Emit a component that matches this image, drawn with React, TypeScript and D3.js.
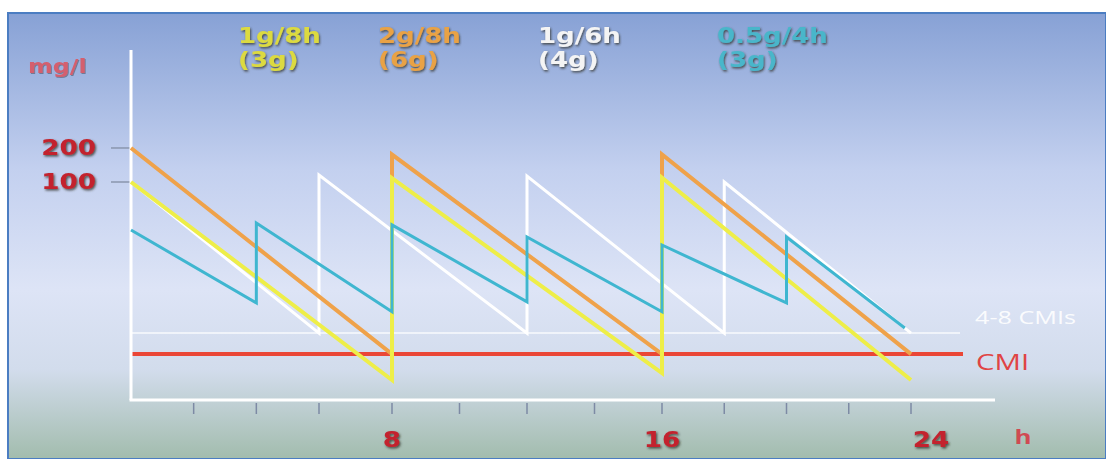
import React, { useEffect } from "react";
import * as d3 from "d3";

// ---- data ----
const orangeT = [0, 8, 8, 16, 16, 24];
const orangeV = [200, 3, 175, 3, 175, 3];
const yellowT = [0, 8, 8, 16, 16, 24];
const yellowV = [100, 1.77, 108, 2.04, 109, 1.77];
const whiteT = [0, 6, 6, 12, 12, 18, 18, 24];
const whiteV = [100, 4.6, 115, 4.6, 113, 4.6, 100, 4.6];
const cyanT = [0, 4, 4, 8, 8, 12, 12, 16, 16, 20, 20, 23.8];
const cyanV = [37.6, 8.5, 43.4, 7.1, 41.7, 8.7, 32.6, 7.1, 27.7, 8.5, 32.6, 5.1];

const CMI = 3;
const CMI48 = 4.6;
const yTickValues = [200, 100];
const yTickLabels = ["200", "100"];
const xTicks = [2, 4, 6, 8, 10, 12, 14, 16, 18, 20, 22, 24];
const xLabelValues = [8, 16, 24];
const xLabels = ["8", "16", "24"];

const legendLine1 = ["1g/8h", "2g/8h", "1g/6h", "0.5g/4h"];
const legendLine2 = ["(3g)", "(6g)", "(4g)", "(3g)"];

const W = 1106;
const H = 459;

type TProps = {
  x: number;
  y: number;
  sx?: number;
  anchor?: "start" | "middle" | "end";
  children: React.ReactNode;
  [k: string]: any;
};

function SText({ x, y, sx = 1.25, anchor = "start", children, ...rest }: TProps) {
  return (
    <text transform={`translate(${x},${y}) scale(${sx},1)`} textAnchor={anchor} {...rest}>
      {children}
    </text>
  );
}

export default function App() {
  useEffect(() => {
    document.body.style.margin = "0";
  }, []);

  const x = d3
    .scaleLinear()
    .domain([0, 6, 8, 16, 24])
    .range([131, 319, 392, 662, 911]);
  const y = d3.scaleLog().domain([1, 1000]).range([408, 69]);

  const line = d3
    .line<[number, number]>()
    .x((d) => x(d[0]))
    .y((d) => y(d[1]));

  const pts = (t: number[], v: number[]) =>
    t.map((tt, i) => [tt, v[i]] as [number, number]);

  const series = [
    { t: whiteT, v: whiteV, color: "#ffffff", w: 3 },
    { t: orangeT, v: orangeV, color: "#efa24a", w: 4 },
    { t: yellowT, v: yellowV, color: "#eeee48", w: 4 },
    { t: cyanT, v: cyanV, color: "#3fb6d0", w: 3 },
  ];

  const legendColors = ["#dcda40", "#e9a244", "#f4f4f4", "#4ab6ca"];
  const legendX = [238, 378, 538, 717];

  const font = "'DejaVu Sans', Verdana, sans-serif";
  const sans = "'Open Sans', sans-serif";
  const axisX0 = x(0);
  const axisY0 = 400;

  return (
    <div style={{ position: "absolute", left: 0, top: 0 }}>
      <svg width={W} height={H} style={{ display: "block" }}>
        <defs>
          <linearGradient id="bg" x1="0" y1="0" x2="0" y2="1">
            <stop offset="0%" stopColor="#87a1d5" />
            <stop offset="35%" stopColor="#c3d0ef" />
            <stop offset="62%" stopColor="#dde4f6" />
            <stop offset="80%" stopColor="#d2dcec" />
            <stop offset="100%" stopColor="#a2bcad" />
          </linearGradient>
          <filter id="sh" x="-10%" y="-20%" width="130%" height="150%">
            <feDropShadow dx="1" dy="1.5" stdDeviation="0.8" floodColor="#2e2e26" floodOpacity="0.8" />
          </filter>
          <filter id="shl" x="-10%" y="-20%" width="130%" height="150%">
            <feDropShadow dx="0.8" dy="1" stdDeviation="0.6" floodColor="#404050" floodOpacity="0.5" />
          </filter>
        </defs>
        <rect x={0} y={0} width={W} height={H} fill="#ffffff" />
        <rect x={8} y={13} width={W - 8} height={H - 13} fill="url(#bg)" stroke="#4b7dc2" strokeWidth={2} />

        {/* legend */}
        {legendLine1.map((s, i) => (
          <g key={s + i} filter="url(#sh)" fill={legendColors[i]} fontFamily={font} fontWeight="bold" fontSize={21}>
            <SText x={legendX[i]} y={43} sx={1.24}>{s}</SText>
            <SText x={legendX[i]} y={67} sx={1.24}>{legendLine2[i]}</SText>
          </g>
        ))}

        {/* y unit */}
        <SText x={28} y={73} sx={1.25} fill="#d45e6e" fontFamily={font} fontWeight="bold" fontSize={19} filter="url(#shl)">mg/l</SText>

        {/* y ticks */}
        {yTickValues.map((v, i) => (
          <g key={v}>
            <line x1={111} x2={axisX0} y1={y(v)} y2={y(v)} stroke="#8a96ae" strokeWidth={1.5} />
            <SText x={96} y={y(v) + 7} sx={1.25} anchor="end" fill="#c3232e" fontFamily={font} fontWeight="bold" fontSize={21} filter="url(#sh)">
              {yTickLabels[i]}
            </SText>
          </g>
        ))}

        {/* reference lines */}
        <line x1={axisX0} x2={960} y1={y(CMI48)} y2={y(CMI48)} stroke="#ffffff" strokeOpacity={0.85} strokeWidth={1.5} />
        <line x1={axisX0} x2={963} y1={y(CMI)} y2={y(CMI)} stroke="#ea4636" strokeWidth={4} />
        <SText x={975} y={324} sx={1.4} fill="#ffffff" fillOpacity={0.9} fontFamily={sans} fontSize={18}>4-8 CMIs</SText>
        <SText x={976} y={370} sx={1.4} fill="#e04444" fontFamily={sans} fontSize={21}>CMI</SText>

        {/* axes */}
        <line x1={axisX0} x2={axisX0} y1={50} y2={axisY0} stroke="#ffffff" strokeWidth={3} />
        <line x1={axisX0 - 1.5} x2={995} y1={axisY0} y2={axisY0} stroke="#ffffff" strokeWidth={3} />
        {xTicks.map((t) => (
          <line key={t} x1={x(t)} x2={x(t)} y1={403} y2={414} stroke="#7d8aa4" strokeWidth={1.5} />
        ))}
        {xLabelValues.map((t, i) => (
          <SText
            key={t}
            x={x(t) + (i === xLabelValues.length - 1 ? 20 : 0)}
            y={447}
            sx={1.25}
            anchor="middle"
            fill="#c3232e"
            fontFamily={font}
            fontWeight="bold"
            fontSize={21}
            filter="url(#sh)"
          >
            {xLabels[i]}
          </SText>
        ))}
        <SText x={1023} y={444} sx={1.3} anchor="middle" fill="#d04a52" fontFamily={sans} fontWeight="bold" fontSize={20}>h</SText>

        {/* series */}
        {series.map((s, i) => (
          <path
            key={i}
            d={line(pts(s.t, s.v)) || ""}
            fill="none"
            stroke={s.color}
            strokeWidth={s.w}
            strokeLinejoin="miter"
            strokeMiterlimit={4}
          />
        ))}
      </svg>
    </div>
  );
}
